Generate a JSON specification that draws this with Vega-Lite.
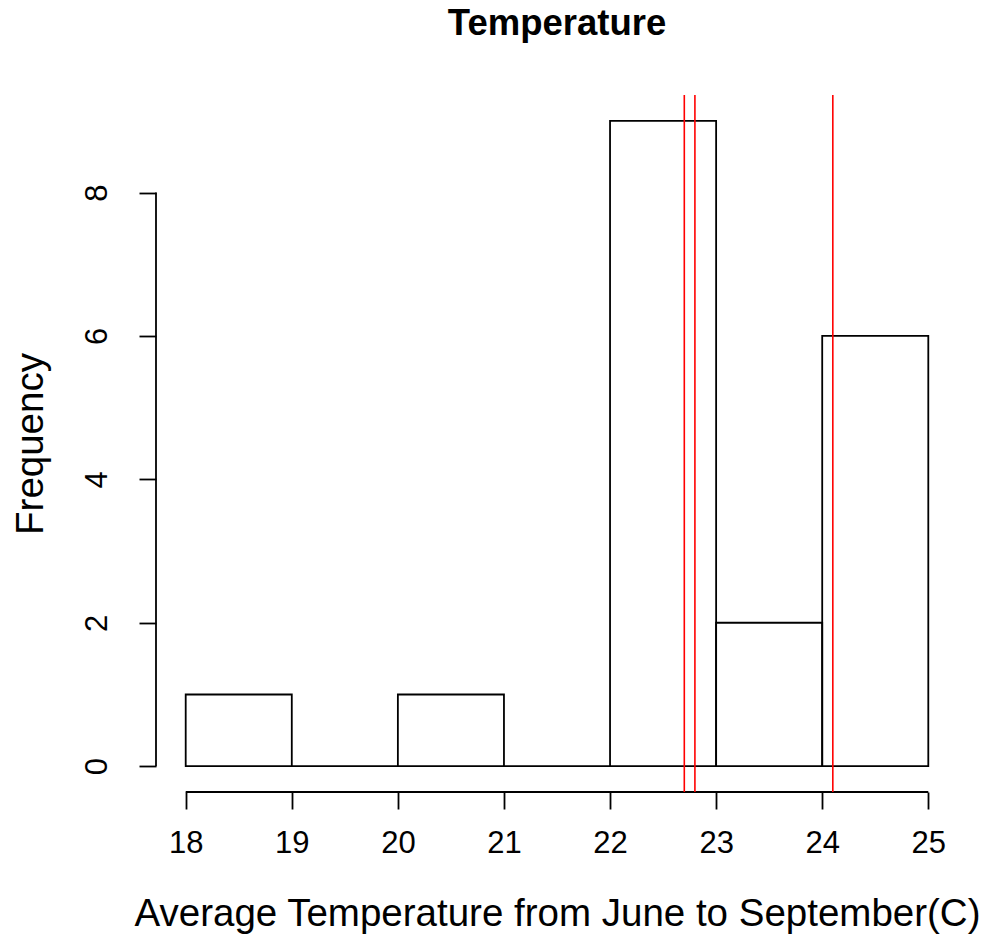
{
  "$schema": "https://vega.github.io/schema/vega-lite/v6.json",
  "autosize": {"type": "none"},
  "width": 802,
  "height": 697,
  "padding": {"left": 156, "top": 95, "right": 28, "bottom": 148},
  "background": "white",
  "config": {
    "view": {"stroke": null},
    "font": "Liberation Sans",
    "axis": {"grid": false, "domain": false, "tickColor": "black", "tickWidth": 1.8, "tickSize": 17, "labelColor": "black", "titleColor": "black", "labelFont": "Liberation Sans", "titleFont": "Liberation Sans", "titleFontWeight": "normal"}
  },
  "title": {"text": "Temperature", "fontSize": 36.5, "fontWeight": "bold", "font": "Liberation Sans", "color": "black", "anchor": "middle", "baseline": "alphabetic", "offset": 23},
  "datasets": {
    "bins": [
      {"bin_start": 18, "bin_end": 19, "count": 1},
      {"bin_start": 19, "bin_end": 20, "count": 0},
      {"bin_start": 20, "bin_end": 21, "count": 1},
      {"bin_start": 21, "bin_end": 22, "count": 0},
      {"bin_start": 22, "bin_end": 23, "count": 9},
      {"bin_start": 23, "bin_end": 24, "count": 2},
      {"bin_start": 24, "bin_end": 25, "count": 6}
    ],
    "markers": [
      {"temp": 22.7},
      {"temp": 22.8},
      {"temp": 24.1}
    ]
  },
  "layer": [
    {
      "data": {"name": "bins"},
      "mark": {"type": "rect", "fill": null, "stroke": "black", "strokeWidth": 1.8},
      "encoding": {
        "x": {
          "field": "bin_start", "type": "quantitative",
          "scale": {"domain": [17.72, 25.28], "nice": false, "zero": false},
          "axis": {"values": [18, 19, 20, 21, 22, 23, 24, 25], "format": "d", "labelFontSize": 31, "labelPadding": 19, "title": "Average Temperature from June to September(C)", "titleFontSize": 38.5, "titleBaseline": "alphabetic", "titleY": 133}
        },
        "x2": {"field": "bin_end"},
        "y": {
          "field": "count", "type": "quantitative",
          "scale": {"domain": [-0.36, 9.36], "nice": false, "zero": false},
          "axis": {"values": [0, 2, 4, 6, 8], "format": "d", "labelFontSize": 31, "labelAngle": 270, "labelAlign": "center", "labelBaseline": "alphabetic", "labelPadding": 33, "title": "Frequency", "titleFontSize": 38.5, "titleAngle": 270, "titleBaseline": "alphabetic", "titleX": -114}
        },
        "y2": {"datum": 0}
      }
    },
    {
      "data": {"values": [{}]},
      "mark": {"type": "rule", "color": "black", "strokeWidth": 1.8},
      "encoding": {
        "x": {"datum": 18, "type": "quantitative"},
        "x2": {"datum": 25},
        "y": {"datum": -0.36, "type": "quantitative"}
      }
    },
    {
      "data": {"values": [{}]},
      "mark": {"type": "rule", "color": "black", "strokeWidth": 1.8},
      "encoding": {
        "x": {"datum": 17.72, "type": "quantitative"},
        "y": {"datum": 0, "type": "quantitative"},
        "y2": {"datum": 8}
      }
    },
    {
      "data": {"name": "markers"},
      "mark": {"type": "rule", "color": "#ff0000", "strokeWidth": 1.6},
      "encoding": {
        "x": {"field": "temp", "type": "quantitative"}
      }
    }
  ]
}
